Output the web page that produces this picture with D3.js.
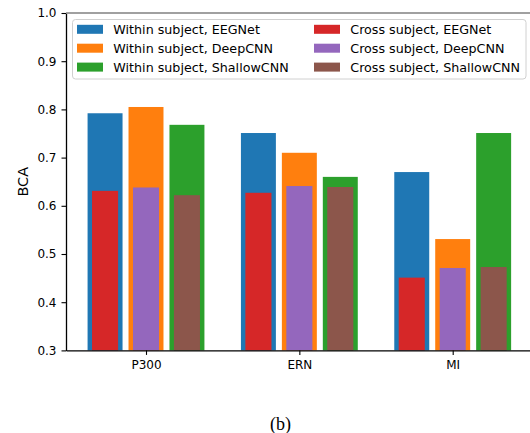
<!DOCTYPE html>
<html>
<head>
<meta charset="utf-8">
<script src="https://cdn.jsdelivr.net/npm/d3@7"></script>
<style>
  body { margin: 0; background: #fff; }
  svg { display: block; font-family: "DejaVu Sans", sans-serif; }
  .tick text { font-size: 12px; fill: #000; }
</style>
</head>
<body>
<div class="chart"></div>
<script>
// data
var tasks = ["P300", "ERN", "MI"];
var models = ["EEGNet", "DeepCNN", "ShallowCNN"];
var withinBCA = [
  [0.792, 0.805, 0.768],   // P300
  [0.751, 0.710, 0.660],   // ERN
  [0.670, 0.531, 0.751]    // MI
];
var crossBCA = [
  [0.631, 0.638, 0.622],
  [0.627, 0.641, 0.639],
  [0.451, 0.471, 0.473]
];
var yTicks = [0.3, 0.4, 0.5, 0.6, 0.7, 0.8, 0.9, 1.0];

var withinColors = ["#1f77b4", "#ff7f0e", "#2ca02c"];
var crossColors = ["#d62728", "#9467bd", "#8c564b"];

var svgWidth = 530;
var svgHeight = 433;
var plot = {left: 66, right: 532.7, top: 13, bottom: 350.4};

var svg = d3.select(".chart")
  .append("svg")
  .attr("width", svgWidth)
  .attr("height", svgHeight);

var x = d3.scalePoint().domain(tasks).range([plot.left, plot.right]).padding(0.5217);
var y = d3.scaleLinear().domain([0.3, 1.0]).range([plot.bottom, plot.top]);

// bar geometry as fractions of the group step
var step = x.step();
var pitch = step * 0.267;
var wideW = step * 0.228;
var narrowW = step * 0.17;

// flatten for drawing
var withinRows = [];
var crossRows = [];
tasks.forEach(function(t, i) {
  models.forEach(function(m, k) {
    withinRows.push({task: t, k: k, value: withinBCA[i][k]});
    crossRows.push({task: t, k: k, value: crossBCA[i][k]});
  });
});

var bars = svg.append("g");

bars.selectAll("rect.within")
  .data(withinRows)
  .enter()
  .append("rect")
  .attr("class", "within")
  .attr("x", function(d) { return x(d.task) + (d.k - 1) * pitch - wideW / 2; })
  .attr("y", function(d) { return y(d.value); })
  .attr("width", wideW)
  .attr("height", function(d) { return y(0.3) - y(d.value); })
  .attr("fill", function(d) { return withinColors[d.k]; });

bars.selectAll("rect.cross")
  .data(crossRows)
  .enter()
  .append("rect")
  .attr("class", "cross")
  .attr("x", function(d) { return x(d.task) + (d.k - 1) * pitch - narrowW / 2; })
  .attr("y", function(d) { return y(d.value); })
  .attr("width", narrowW)
  .attr("height", function(d) { return y(0.3) - y(d.value); })
  .attr("fill", function(d) { return crossColors[d.k]; });

// axes
var xAxis = svg.append("g")
  .attr("transform", "translate(0," + plot.bottom + ")")
  .call(d3.axisBottom(x).tickSize(4.5).tickPadding(6).tickSizeOuter(0));

var yAxis = svg.append("g")
  .attr("transform", "translate(" + plot.left + ",0)")
  .call(d3.axisLeft(y).tickValues(yTicks).tickFormat(d3.format(".1f")).tickSize(4.5).tickPadding(5).tickSizeOuter(0));

[xAxis, yAxis].forEach(function(a) {
  a.attr("font-family", null).attr("font-size", null);
  a.select(".domain").attr("stroke", "#000").attr("stroke-width", 1.3);
  a.selectAll(".tick line").attr("stroke", "#000").attr("stroke-width", 1.1);
});

// top spine
svg.append("line")
  .attr("x1", plot.left).attr("x2", plot.right)
  .attr("y1", plot.top).attr("y2", plot.top)
  .attr("stroke", "#808080")
  .attr("stroke-width", 1.5);

// y label
svg.append("text")
  .attr("transform", "translate(27.5," + ((plot.top + plot.bottom) / 2) + ") rotate(-90)")
  .attr("text-anchor", "middle")
  .style("font-size", "14.5px")
  .text("BCA");

// legend
var legendItems = [];
models.forEach(function(m, k) {
  legendItems.push({label: "Within subject, " + m, color: withinColors[k], col: 0, row: k});
});
models.forEach(function(m, k) {
  legendItems.push({label: "Cross subject, " + m, color: crossColors[k], col: 1, row: k});
});

var legend = svg.append("g");
legend.append("rect")
  .attr("x", 72.5).attr("y", 19.5)
  .attr("width", 453.5).attr("height", 59.5)
  .attr("rx", 3)
  .attr("fill", "#fff").attr("fill-opacity", 0.8)
  .attr("stroke", "#d0d0d0").attr("stroke-width", 1);

var colX = [77, 314];
var item = legend.selectAll("g.item")
  .data(legendItems)
  .enter()
  .append("g")
  .attr("class", "item")
  .attr("transform", function(d) { return "translate(" + colX[d.col] + "," + (29.3 + d.row * 18.9) + ")"; });

item.append("rect")
  .attr("x", 0).attr("y", -4.5)
  .attr("width", 26).attr("height", 9)
  .attr("fill", function(d) { return d.color; });

item.append("text")
  .attr("x", 36.3)
  .attr("y", 4.6)
  .style("font-size", "12.7px")
  .text(function(d) { return d.label; });

// caption
svg.append("text")
  .attr("x", 280.5)
  .attr("y", 430)
  .attr("text-anchor", "middle")
  .style("font-family", "'Liberation Serif', serif")
  .style("font-size", "18px")
  .text("(b)");
</script>
</body>
</html>
